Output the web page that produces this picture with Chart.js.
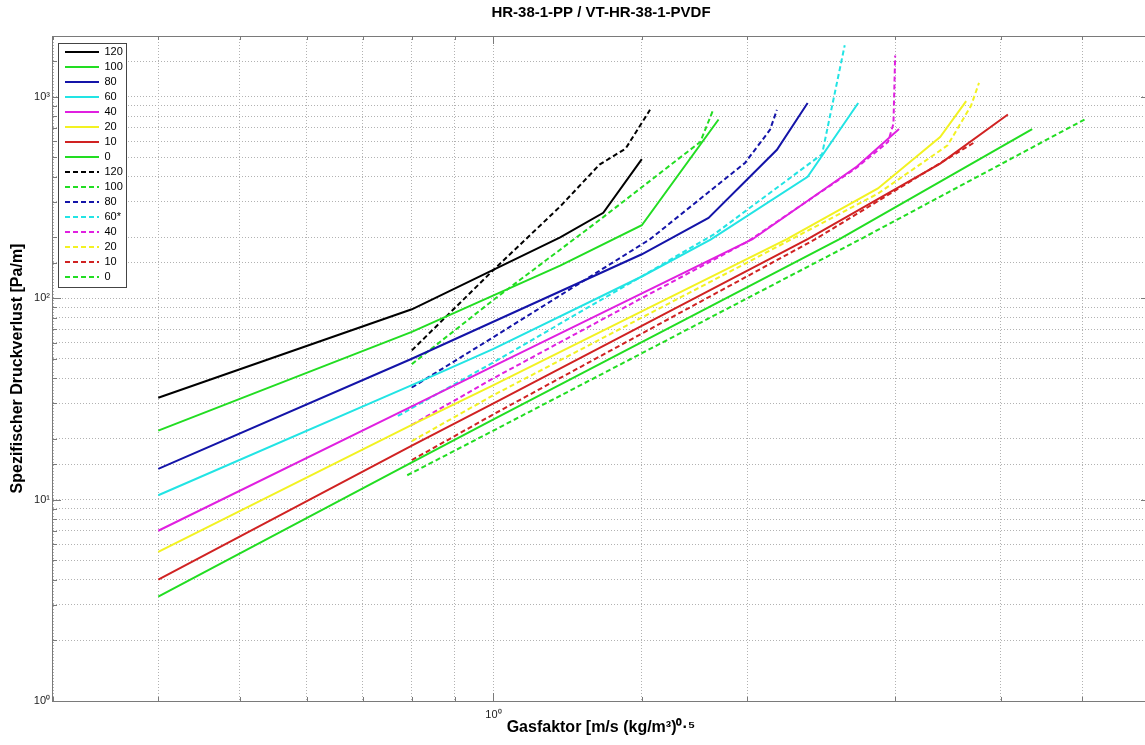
<!DOCTYPE html>
<html>
<head>
<meta charset="utf-8">
<script src="https://cdn.jsdelivr.net/npm/chart.js@4.4.1/dist/chart.umd.min.js"></script>
<style>
html,body{margin:0;padding:0;background:#ffffff;overflow:hidden}
#wrap{width:1145px;height:745px;position:relative;overflow:hidden}
</style>
</head>
<body>
<div id="wrap"><canvas id="c" width="1150" height="745"></canvas></div>
<script>
// ---- texts ----
const chartTitle = 'HR-38-1-PP / VT-HR-38-1-PVDF';
const xAxisTitle = 'Gasfaktor [m/s (kg/m³)⁰·⁵';
const yAxisTitle = 'Spezifischer Druckverlust [Pa/m]';

// ---- axis ranges / tick labels ----
const xRange = [0.3, 6];
const yRange = [1, 2000];
const xTickLabels = {1: '10⁰'};
const yTickLabels = {1: '10⁰', 10: '10¹', 100: '10²', 1000: '10³'};

// ---- legend labels and colours ----
const seriesLabels = ['120', '100', '80', '60', '40', '20', '10', '0',
                      '120', '100', '80', '60*', '40', '20', '10', '0'];
const seriesColors = ['#000000', '#22dd22', '#1414a8', '#22e4e4', '#e020e0', '#f2f222', '#d02222', '#22dd22',
                      '#000000', '#22dd22', '#1414a8', '#22e4e4', '#e020e0', '#f2f222', '#d02222', '#22dd22'];

// ---- solid series (HR-38-1-PP) : gas factor x, pressure drop y ----
const pp120x = [0.4, 0.8, 1.2, 1.35, 1.5];
const pp120y = [32, 88, 200, 265, 490];
const pp100x = [0.4, 0.8, 1.2, 1.5, 1.85];
const pp100y = [22, 68, 145, 230, 770];
const pp80x  = [0.4, 0.8, 1.5, 1.8, 2.17, 2.36];
const pp80y  = [14.2, 50, 165, 250, 545, 930];
const pp60x  = [0.4, 0.8, 1.0, 1.5, 1.81, 2.36, 2.71];
const pp60y  = [10.5, 37, 56, 128, 195, 400, 930];
const pp40x  = [0.4, 0.8, 1.0, 2.03, 2.7, 3.03];
const pp40y  = [7, 29, 46, 196, 450, 690];
const pp20x  = [0.4, 0.8, 1.0, 2.23, 2.86, 3.39, 3.64];
const pp20y  = [5.5, 23.5, 37, 196, 350, 630, 950];
const pp10x  = [0.4, 0.8, 1.0, 2.36, 3.39, 4.08];
const pp10y  = [4, 18.5, 30, 196, 465, 815];
const pp0x   = [0.4, 0.8, 1.0, 2.575, 4.36];
const pp0y   = [3.3, 15.3, 25, 196, 690];

// ---- dashed series (VT-HR-38-1-PVDF) ----
const vt120x = [0.8, 1.0, 1.2, 1.336, 1.435, 1.534];
const vt120y = [55, 138, 285, 460, 552, 860];
const vt100x = [0.8, 1.0, 1.336, 1.76, 1.82];
const vt100y = [47, 98, 244, 596, 845];
const vt80x  = [0.8, 1.0, 1.534, 1.99, 2.13, 2.17];
const vt80y  = [36, 64, 196, 470, 686, 860];
const vt60x  = [0.77, 1.0, 1.83, 2.455, 2.612];
const vt60y  = [26, 48, 208, 518, 1800];
const vt40x  = [0.8, 1.0, 1.5, 2.0, 2.7, 2.94, 2.984, 2.998];
const vt40y  = [23.5, 40, 100, 190, 445, 596, 734, 1600];
const vt20x  = [0.8, 1.0, 2.0, 2.86, 3.46, 3.69, 3.77];
const vt20y  = [19.5, 33, 150, 330, 573, 904, 1170];
const vt10x  = [0.8, 1.0, 2.41, 3.73];
const vt10y  = [15.7, 26.5, 196, 596];
const vt0x   = [0.79, 1.0, 2.727, 5.03];
const vt0y   = [13.2, 22, 196, 770];

const seriesX = [pp120x, pp100x, pp80x, pp60x, pp40x, pp20x, pp10x, pp0x,
                 vt120x, vt100x, vt80x, vt60x, vt40x, vt20x, vt10x, vt0x];
const seriesY = [pp120y, pp100y, pp80y, pp60y, pp40y, pp20y, pp10y, pp0y,
                 vt120y, vt100y, vt80y, vt60y, vt40y, vt20y, vt10y, vt0y];

const FONT = "'Liberation Sans', Arial, Helvetica, sans-serif";

const datasets = seriesLabels.map((lab, i) => ({
  label: lab,
  data: seriesX[i].map((x, k) => ({x: x, y: seriesY[i][k]})),
  borderColor: seriesColors[i],
  backgroundColor: seriesColors[i],
  borderWidth: 2,
  borderDash: i >= 8 ? [5, 3] : [],
  pointRadius: 0,
  showLine: true,
  fill: false,
  tension: 0
}));

const isDecade = v => Math.abs(Math.log10(v) - Math.round(Math.log10(v))) < 1e-9;
const noPad = s => { s.paddingLeft = 0; s.paddingRight = 0; s.paddingTop = 0; s.paddingBottom = 0; };

const framePlugin = {
  id: 'frame',
  afterLayout(chart) {
    const lg = chart.legend, a = chart.chartArea;
    if (lg) {
      lg.left = a.left + 8;
      lg.top = a.top + 6.5;
      lg.right = lg.left + lg.width;
      lg.bottom = a.bottom;
    }
  },
  afterDatasetsDraw(chart) {
    const ctx = chart.ctx, a = chart.chartArea;
    const sx = chart.scales.x, sy = chart.scales.y;
    ctx.save();
    ctx.strokeStyle = '#7a7a7a';
    ctx.lineWidth = 1;
    ctx.setLineDash([]);
    ctx.beginPath();
    sx.ticks.forEach(t => {
      const px = Math.round(sx.getPixelForValue(t.value)) + 0.5;
      const len = isDecade(t.value) ? 8 : 4;
      ctx.moveTo(px, a.bottom); ctx.lineTo(px, a.bottom - len);
      ctx.moveTo(px, a.top); ctx.lineTo(px, a.top + len);
    });
    sy.ticks.forEach(t => {
      const py = Math.round(sy.getPixelForValue(t.value)) + 0.5;
      const len = isDecade(t.value) ? 8 : 4;
      ctx.moveTo(a.left, py); ctx.lineTo(a.left + len, py);
      ctx.moveTo(a.right, py); ctx.lineTo(a.right - len, py);
    });
    ctx.stroke();
    ctx.strokeRect(a.left - 0.5, a.top + 0.5, a.right - a.left, a.bottom - a.top);
    const lg = chart.legend;
    if (lg && lg.legendHitBoxes && lg.legendHitBoxes.length) {
      const hb = lg.legendHitBoxes;
      let l = Infinity, t = Infinity, r = -Infinity, b = -Infinity;
      hb.forEach(h => {
        l = Math.min(l, h.left); t = Math.min(t, h.top);
        r = Math.max(r, h.left + h.width); b = Math.max(b, h.top + h.height);
      });
      const bx = Math.round(l - 7) + 0.5, by = Math.round(t - 3.5) + 0.5;
      const bw = Math.round(r + 4 - bx), bh = Math.round(b + 4.5 - by);
      ctx.fillStyle = '#ffffff';
      ctx.fillRect(bx, by, bw, bh);
      ctx.strokeStyle = '#444444';
      ctx.strokeRect(bx, by, bw, bh);
      ctx.restore();
      lg.draw();
    } else {
      ctx.restore();
    }
  }
};

new Chart(document.getElementById('c'), {
  type: 'scatter',
  data: {datasets: datasets},
  options: {
    responsive: false,
    animation: false,
    devicePixelRatio: 1,
    layout: {padding: {left: 0, right: 1, top: 0, bottom: 0}},
    plugins: {
      title: {display: false},
      tooltip: {enabled: false},
      legend: {
        display: true,
        position: 'chartArea',
        align: 'start',
        labels: {
          usePointStyle: true,
          pointStyle: 'line',
          pointStyleWidth: 34,
          padding: 4,
          color: '#000000',
          font: {family: FONT, size: 11},
          generateLabels(chart) {
            const items = Chart.defaults.plugins.legend.labels.generateLabels(chart);
            items.forEach(it => {
              const ds = chart.data.datasets[it.datasetIndex];
              it.lineDash = ds.borderDash;
              it.lineWidth = 2;
              it.strokeStyle = ds.borderColor;
              it.fillStyle = ds.borderColor;
            });
            return items;
          }
        }
      }
    },
    scales: {
      x: {
        type: 'logarithmic',
        position: 'bottom',
        min: xRange[0],
        max: xRange[1],
        afterFit(s) { s.height = 44; noPad(s); },
        grid: {display: true, drawTicks: false, color: '#b2b2b2', lineWidth: 1},
        border: {display: false, dash: [1, 2]},
        ticks: {
          autoSkip: false,
          maxRotation: 0,
          padding: 7,
          color: '#222222',
          font: {family: FONT, size: 11},
          callback: (v) => xTickLabels[v] !== undefined ? xTickLabels[v] : ''
        },
        title: {
          display: true,
          text: xAxisTitle,
          color: '#000000',
          font: {family: FONT, size: 16, weight: 'bold'},
          padding: {top: 0, bottom: 8}
        }
      },
      x2: {
        type: 'logarithmic',
        axis: 'x',
        position: 'top',
        min: xRange[0],
        max: xRange[1],
        afterFit(s) { s.height = 36; noPad(s); },
        grid: {display: false, drawTicks: false},
        border: {display: false},
        ticks: {display: false},
        title: {
          display: true,
          text: chartTitle,
          color: '#000000',
          font: {family: FONT, size: 15, weight: 'bold'},
          padding: {top: 4, bottom: 0}
        }
      },
      y: {
        type: 'logarithmic',
        position: 'left',
        min: yRange[0],
        max: yRange[1],
        afterFit(s) { s.width = 53; noPad(s); },
        grid: {display: true, drawTicks: false, color: '#b2b2b2', lineWidth: 1},
        border: {display: false, dash: [1, 2]},
        ticks: {
          autoSkip: false,
          padding: 3,
          color: '#222222',
          font: {family: FONT, size: 11},
          callback: (v) => yTickLabels[v] !== undefined ? yTickLabels[v] : ''
        },
        title: {
          display: true,
          text: yAxisTitle,
          color: '#000000',
          font: {family: FONT, size: 16, weight: 'bold'},
          padding: {top: 8, bottom: 0}
        }
      }
    }
  },
  plugins: [framePlugin]
});
</script>
</body>
</html>
